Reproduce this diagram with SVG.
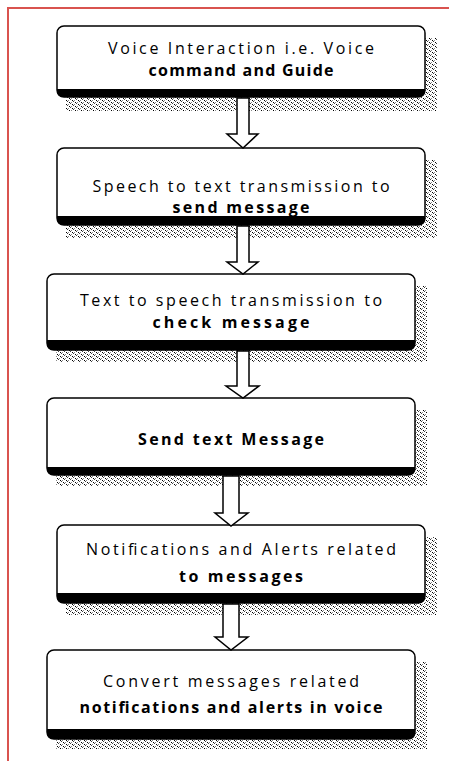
<svg xmlns="http://www.w3.org/2000/svg" width="449" height="761" viewBox="0 0 449 761">
<defs>
<pattern id="dots" width="6" height="4" patternUnits="userSpaceOnUse">
<rect x="0" y="0" width="1" height="1" fill="#000"/>
<rect x="3" y="2" width="1" height="1" fill="#000"/>
<rect x="1" y="1" width="1" height="1" fill="#444"/>
<rect x="4" y="3" width="1" height="1" fill="#444"/>
<rect x="2" y="0" width="1" height="1" fill="#888"/>
<rect x="5" y="2" width="1" height="1" fill="#888"/>
</pattern>
<style>
.frame{fill:none;stroke:#d9534f;stroke-width:2}
.box{fill:#fff;stroke:#000;stroke-width:1.5}
.bar{fill:#000}
.shadow{fill:url(#dots)}
.arrow{fill:#fff;stroke:#000;stroke-width:1.5;stroke-linejoin:miter}
text{font-family:"Open Sans","Liberation Sans",Arial,sans-serif;font-size:16px;fill:#000;text-anchor:middle}
.b{font-weight:bold}
</style>
</defs>
<rect class="frame" x="8" y="8" width="470" height="780"/>

<g id="node1">
<path class="shadow" d="M425,38 H437 V111 H66 V97 H425 Z"/>
<rect class="box" x="57" y="26" width="368" height="71" rx="7"/>
<path class="bar" d="M57,89 H425 V91 Q425,97 419,97 H63 Q57,97 57,91 Z"/>
<text x="241" y="54" textLength="266" lengthAdjust="spacing">Voice Interaction i.e. Voice</text>
<text class="b" x="241" y="76" textLength="185" lengthAdjust="spacing">command and Guide</text>
</g>

<g id="node2">
<path class="shadow" d="M425,160 H437 V238 H66 V225 H425 Z"/>
<rect class="box" x="57" y="148" width="368" height="77" rx="7"/>
<path class="bar" d="M57,216 H425 V219 Q425,225 419,225 H63 Q57,225 57,219 Z"/>
<text x="241" y="192" textLength="297" lengthAdjust="spacing">Speech to text transmission to</text>
<text class="b" x="241" y="213" textLength="137" lengthAdjust="spacing">send message</text>
</g>

<g id="node3">
<path class="shadow" d="M415,286 H427 V362 H56 V350 H415 Z"/>
<rect class="box" x="47" y="274" width="368" height="76" rx="7"/>
<path class="bar" d="M47,340 H415 V344 Q415,350 409,350 H53 Q47,350 47,344 Z"/>
<text x="231" y="306" textLength="302" lengthAdjust="spacing">Text to speech transmission to</text>
<text class="b" x="231" y="328" textLength="157" lengthAdjust="spacing">check message</text>
</g>

<g id="node4">
<path class="shadow" d="M415,410 H427 V486 H56 V475 H415 Z"/>
<rect class="box" x="47" y="398" width="368" height="77" rx="7"/>
<path class="bar" d="M47,467 H415 V469 Q415,475 409,475 H53 Q47,475 47,469 Z"/>
<text class="b" x="231" y="445" textLength="186" lengthAdjust="spacing">Send text Message</text>
</g>

<g id="node5">
<path class="shadow" d="M425,537 H437 V615 H66 V603 H425 Z"/>
<rect class="box" x="57" y="525" width="368" height="78" rx="7"/>
<path class="bar" d="M57,593 H425 V597 Q425,603 419,603 H63 Q57,603 57,597 Z"/>
<text x="241" y="555" textLength="310" lengthAdjust="spacing">Notifications and Alerts related</text>
<text class="b" x="241" y="582" textLength="124" lengthAdjust="spacing">to messages</text>
</g>

<g id="node6">
<path class="shadow" d="M415,662 H427 V749 H56 V739 H415 Z"/>
<rect class="box" x="47" y="650" width="368" height="89" rx="7"/>
<path class="bar" d="M47,729 H415 V733 Q415,739 409,739 H53 Q47,739 47,733 Z"/>
<text x="231" y="687" textLength="256" lengthAdjust="spacing">Convert messages related</text>
<text class="b" x="231" y="713" textLength="303" lengthAdjust="spacing">notifications and alerts in voice</text>
</g>

<g id="connectors">
<path class="arrow" d="M237,98 H249 V134 H258 L243,148 L227,134 H237 Z"/>
<path class="arrow" d="M237,226 H249 V262 H258 L243,274 L227,262 H237 Z"/>
<path class="arrow" d="M237,351 H249 V386 H259 L243,398 L226,386 H237 Z"/>
<path class="arrow" d="M223,476 H239 V513 H248 L231,526 L215,513 H223 Z"/>
<path class="arrow" d="M223,604 H239 V637 H248 L231,650 L215,637 H223 Z"/>
</g>
</svg>
